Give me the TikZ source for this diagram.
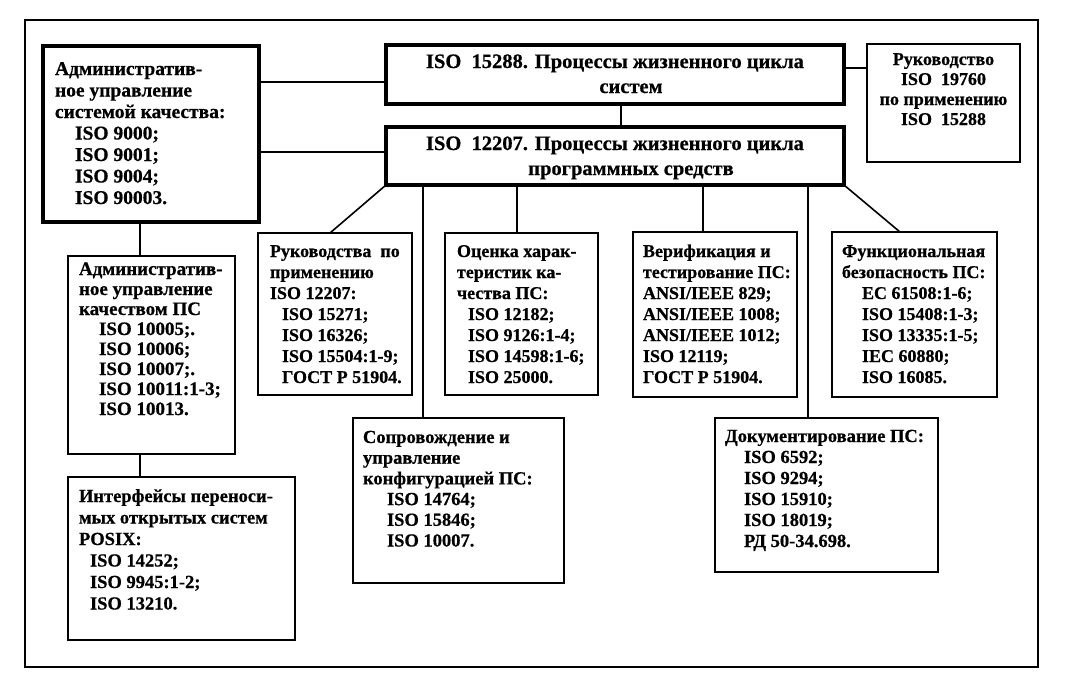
\documentclass[tikz,border=0pt]{standalone}
\usepackage{fontspec}
\setmainfont{Liberation Serif}[BoldFeatures={FakeBold=0.6}]
\usetikzlibrary{calc}
% w h baseline size skip leftpad content
\newcommand{\bx}[7]{\makebox[#1][l]{\parbox[t][#2][t]{600pt}{\fontsize{#4}{#5}\selectfont\bfseries\raggedright\leftskip=#6\relax\parindent=0pt\rule{0pt}{#3}#7}}}
% w h baseline size skip content (centred)
\newcommand{\cbx}[6]{\parbox[t][#2][t]{#1}{\fontsize{#4}{#5}\selectfont\bfseries\centering\rule{0pt}{#3}#6}}
\newcommand{\ind}[1]{\hspace*{#1}}
\tikzset{
  box/.style={draw=black, line width=2pt, inner sep=0pt, outer sep=0pt, anchor=north west, fill=white},
  heavy/.style={line width=3.5pt},
  conn/.style={draw=black, line width=1.6pt},
}
\begin{document}
\begin{tikzpicture}[x=1pt,y=-1pt]
\useasboundingbox (0,0) rectangle (1066,678);
\fill[white] (0,0) rectangle (1066,678);
\draw[line width=1.5pt] (25,20) rectangle (1038,667);

% top row
\node[box,heavy] (A) at (43,46) {\bx{216pt}{176pt}{29pt}{19.5}{21.5}{12pt}{Административ-\\ное управление\\системой качества:\\\ind{20pt}ISO 9000;\\\ind{20pt}ISO 9001;\\\ind{20pt}ISO 9004;\\\ind{20pt}ISO 90003.}};
\node[box,heavy] (T1) at (386,45) {\cbx{458pt}{59pt}{23pt}{20.5}{25}{ISO\ \ 15288. Процессы жизненного цикла\\\hspace*{32pt}систем}};
\node[box,heavy] (T2) at (386,127) {\cbx{458pt}{58pt}{23pt}{20.5}{25}{ISO\ \ 12207. Процессы жизненного цикла\\\hspace*{32pt}программных средств}};
\node[box,line width=2.5pt] (G) at (867,44) {\cbx{153pt}{118pt}{21pt}{18}{20}{Руководство\\ISO\ \ 19760\\по применению\\ISO\ \ 15288}};

% second row
\node[box] (R) at (258,233) {\bx{154pt}{162pt}{24pt}{18}{21}{12pt}{Руководства\ \ по\\применению\\ISO 12207:\\\ind{12pt}ISO 15271;\\\ind{12pt}ISO 16326;\\\ind{12pt}ISO 15504:1-9;\\\ind{12pt}ГОСТ Р 51904.}};
\node[box] (O) at (445,233) {\bx{153pt}{162pt}{24pt}{18}{21}{12pt}{Оценка харак-\\теристик ка-\\чества ПС:\\\ind{11pt}ISO 12182;\\\ind{11pt}ISO 9126:1-4;\\\ind{11pt}ISO 14598:1-6;\\\ind{11pt}ISO 25000.}};
\node[box] (V) at (633,232) {\bx{164pt}{165pt}{25pt}{18}{21}{10pt}{Верификация и\\тестирование ПС:\\ANSI/IEEE 829;\\ANSI/IEEE 1008;\\ANSI/IEEE 1012;\\ISO 12119;\\ГОСТ Р 51904.}};
\node[box] (F) at (832,232) {\bx{165pt}{165pt}{25pt}{18}{21}{10pt}{Функциональная\\безопасность ПС:\\\ind{20pt}EC 61508:1-6;\\\ind{20pt}ISO 15408:1-3;\\\ind{20pt}ISO 13335:1-5;\\\ind{20pt}IEC 60880;\\\ind{20pt}ISO 16085.}};

% left column
\node[box] (Q) at (68,256) {\bx{167pt}{198pt}{19pt}{19}{20}{11pt}{Административ-\\ное управление\\качеством ПС\\\ind{20pt}ISO 10005;.\\\ind{20pt}ISO 10006;\\\ind{20pt}ISO 10007;.\\\ind{20pt}ISO 10011:1-3;\\\ind{20pt}ISO 10013.}};
\node[box] (P) at (68,477) {\bx{227pt}{163pt}{25pt}{18.5}{21.5}{11pt}{Интерфейсы переноси-\\мых открытых систем\\POSIX:\\\ind{11pt}ISO 14252;\\\ind{11pt}ISO 9945:1-2;\\\ind{11pt}ISO 13210.}};

% third row
\node[box] (S) at (353,418) {\bx{211pt}{165pt}{25pt}{18.5}{20.7}{10pt}{Сопровождение и\\управление\\конфигурацией ПС:\\\ind{24pt}ISO 14764;\\\ind{24pt}ISO 15846;\\\ind{24pt}ISO 10007.}};
\node[box] (D) at (715,418) {\bx{223pt}{154pt}{24pt}{18.5}{21}{10pt}{Документирование ПС:\\\ind{19pt}ISO 6592;\\\ind{19pt}ISO 9294;\\\ind{19pt}ISO 15910;\\\ind{19pt}ISO 18019;\\\ind{19pt}РД 50-34.698.}};

% connectors
\coordinate (c1) at ($(T1.west)+(0,7.5)$);
\draw[conn] (c1 -| A.east) -- (c1);
\coordinate (c2) at ($(T2.west)+(0,-4)$);
\draw[conn] (c2 -| A.east) -- (c2);
\coordinate (c3) at ($(T1.south)+(6,0)$);
\draw[conn] (c3) -- (c3 |- T2.north);
\coordinate (c4) at ($(T1.east)+(0,-6.5)$);
\draw[conn] (c4) -- (c4 -| G.west);
\draw[conn] (T2.south west) -- ($(R.north)+(-5,0)$);
\coordinate (c6) at ($(T2.south west)+(37,0)$);
\draw[conn] (c6) -- (c6 |- S.north);
\coordinate (c7) at ($(O.north)+(-4.5,0)$);
\draw[conn] (c7 |- T2.south) -- (c7);
\coordinate (c8) at ($(V.north)+(-12,0)$);
\draw[conn] (c8 |- T2.south) -- (c8);
\coordinate (c9) at ($(T2.south east)+(-36,0)$);
\draw[conn] (c9) -- (c9 |- D.north);
\draw[conn] (T2.south east) -- ($(F.north)+(-14.5,0)$);
\coordinate (c11) at ($(A.south)+(-11,0)$);
\draw[conn] (c11) -- (c11 |- Q.north);
\coordinate (c12) at ($(Q.south)+(-11.5,0)$);
\draw[conn] (c12) -- (c12 |- P.north);
\end{tikzpicture}
\end{document}
